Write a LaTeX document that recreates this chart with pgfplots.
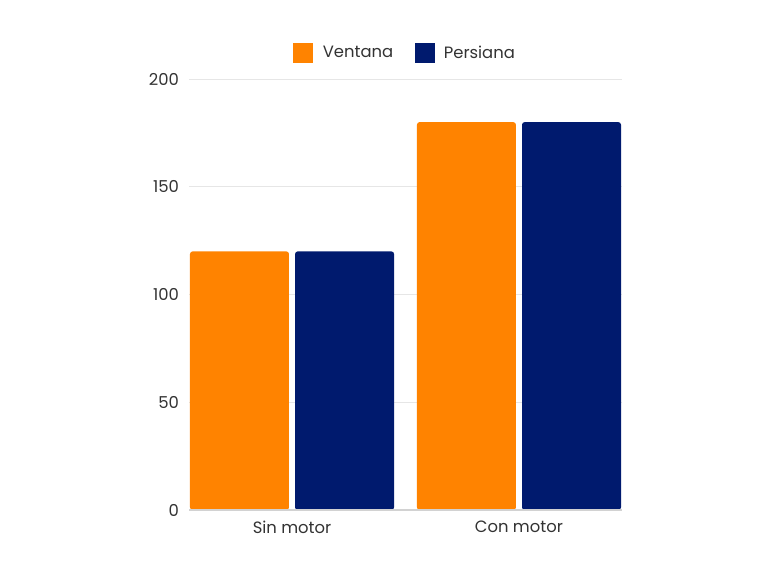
\documentclass[border=0pt]{standalone}
\usepackage{pgfplots}
\pgfplotsset{compat=1.18}
\usepackage{fontspec}
\setmainfont{Poppins}
\definecolor{ventana}{HTML}{FF8300}
\definecolor{persiana}{HTML}{001A6E}
\definecolor{gridc}{HTML}{E6E6E6}
\definecolor{txt}{HTML}{333333}
\begin{document}
\begin{tikzpicture}
\useasboundingbox (0pt,0pt) rectangle (576pt,432pt);
\begin{axis}[
  at={(141.75pt,49.5pt)}, anchor=south west,
  scale only axis,
  width=324.75pt, height=323.25pt,
  ymin=0, ymax=200,
  xmin=-0.454, xmax=1.454,
  ytick={0,50,100,150,200},
  xtick={0,1},
  xticklabels={Sin motor, Con motor},
  axis line style={draw=none},
  axis x line*=bottom,
  axis y line*=left,
  ymajorgrids,
  grid style={gridc, line width=0.6pt},
  major tick length=0pt,
  tick label style={font=\fontsize{12.3}{14}\selectfont, text=txt},
  /pgf/number format/assume math mode=true,
  yticklabel style={xshift=-4pt},
  xticklabel style={yshift=-5pt},
  legend style={at={(0.5,1.06)}, anchor=center, draw=none, legend columns=-1,
    font=\fontsize{12.3}{14}\selectfont, text=txt,
    /tikz/every odd column/.append style={column sep=5pt},
    /tikz/every even column/.append style={column sep=14pt}},
  legend image code/.code={\fill[#1, draw=none] (0pt,-7.5pt) rectangle (15pt,7.5pt);},
  clip=false,
]
\addlegendimage{fill=ventana, draw=none}
\addlegendimage{fill=persiana, draw=none}
\addplot[ybar, bar width=74.25pt, fill=ventana, draw=none, bar shift=-39.4pt, rounded corners=2pt, forget plot] coordinates {(0,120) (1,180)};
\addplot[ybar, bar width=74.25pt, fill=persiana, draw=none, bar shift=39.4pt, rounded corners=2pt, forget plot] coordinates {(0,120) (1,180)};
\legend{Ventana, Persiana}
\draw[gridc!80!gray, line width=0.8pt] (axis cs:-0.454,0) -- (axis cs:1.454,0);
\end{axis}
\end{tikzpicture}
\end{document}
